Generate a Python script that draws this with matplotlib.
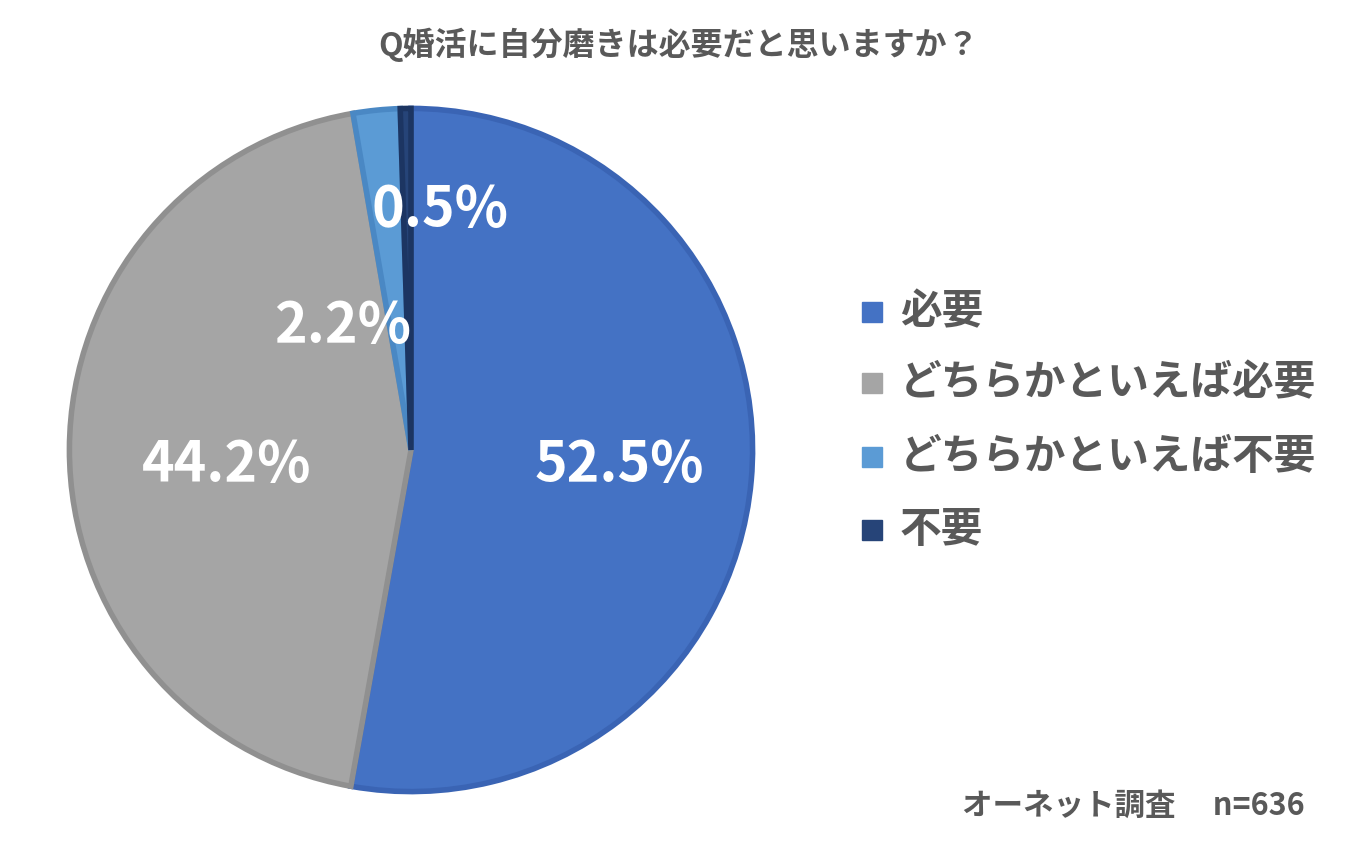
import matplotlib
matplotlib.use("Agg")
import matplotlib.pyplot as plt
from matplotlib.patches import Rectangle

categories = ["必要", "どちらかといえば必要", "どちらかといえば不要", "不要"]
values = [52.5, 44.2, 2.2, 0.5]
labels = ["52.5%", "44.2%", "2.2%", "0.5%"]
colors = ["#4472C4", "#A5A5A5", "#5B9BD5", "#264478"]
edges = ["#3A64B4", "#909090", "#4A88C4", "#1C3562"]

plt.rcParams["font.family"] = "Noto Sans CJK JP"
W, H = 1358, 849
fig = plt.figure(figsize=(W/100, H/100), dpi=100)
cx, cy, r = 411, 450, 345
ax = fig.add_axes([(cx-r)/W, (H-cy-r)/H, 2*r/W, 2*r/H])
wedges, _ = ax.pie(values, colors=colors, startangle=90, counterclock=False,
                   radius=1, wedgeprops=dict(linewidth=4))
for w, e in zip(wedges, edges):
    w.set_edgecolor(e)
ax.set_xlim(-1.01, 1.01); ax.set_ylim(-1.01, 1.01); ax.set_aspect("equal")
ax.axis("off")

label_px = [(621, 465), (225, 465), (342, 325), (440, 208)]
for t, (px, py) in zip(labels, label_px):
    ax.text((px-cx)/r, -(py-cy)/r, t, color="white", fontsize=40, fontweight="bold",
            ha="center", va="center")

fig.text(0.5, 1-45/H, "Q婚活に自分磨きは必要だと思いますか？", ha="center", va="center",
         fontsize=23, fontweight="bold", color="#595959")

rows = [312, 383, 457, 530]
for c, cat, y in zip(colors, categories, rows):
    s = 20
    fig.add_artist(Rectangle(((862)/W, (H-y-s/2)/H), s/W, s/H, color=c,
                             transform=fig.transFigure))
    fig.text(900/W, 1-y/H, cat, fontsize=30, fontweight="bold", color="#595959",
             va="center", ha="left")

fig.text(1305/W, 1-806/H, "オーネット調査　 n=636", fontsize=22, fontweight="bold",
         color="#595959", ha="right", va="center")
fig.savefig("out.png", dpi=100, facecolor="white")
